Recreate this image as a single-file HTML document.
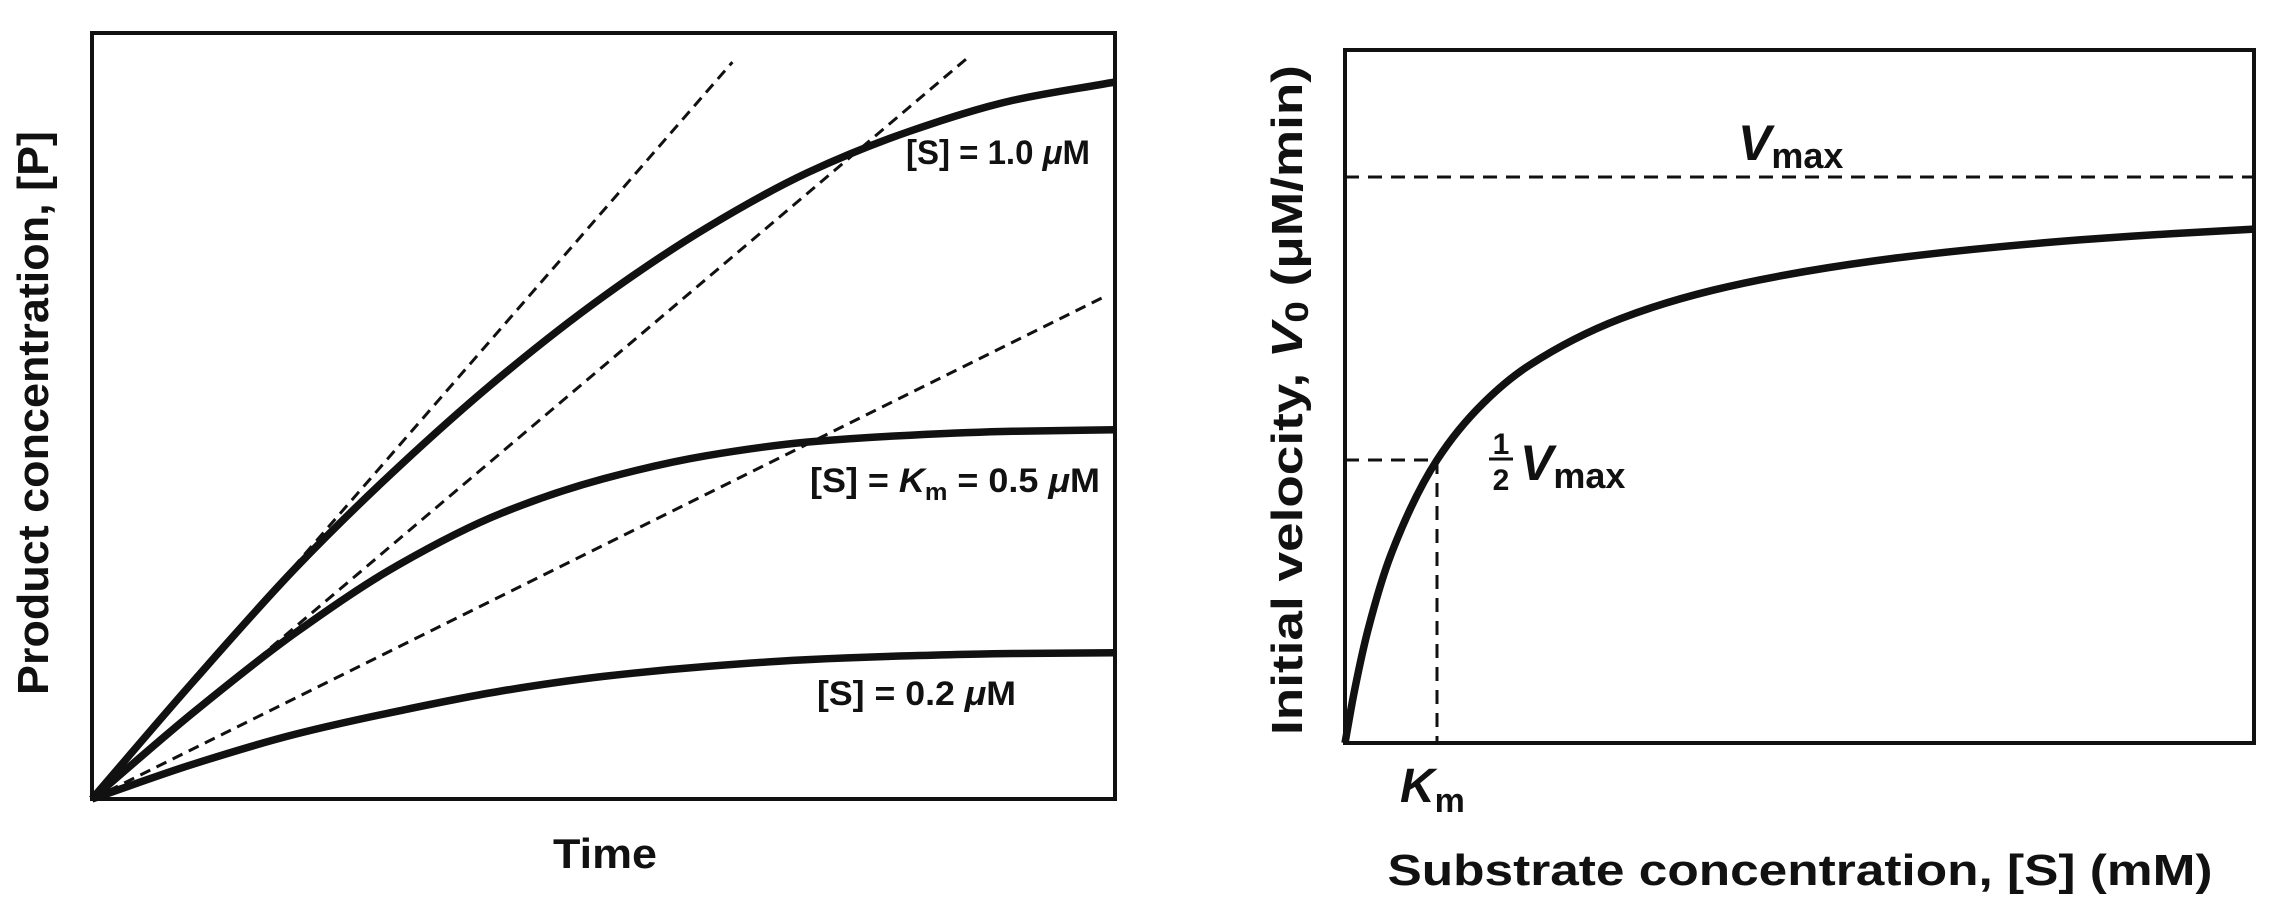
<!DOCTYPE html>
<html><head><meta charset="utf-8"><style>
html,body{margin:0;padding:0;background:#fff;}
svg{display:block;}
text{font-family:"Liberation Sans",sans-serif;font-weight:bold;fill:#111;}
</style></head><body>
<svg id="chart" width="2281" height="906" viewBox="0 0 2281 906" xmlns="http://www.w3.org/2000/svg">
<g id="left">
  <rect x="92" y="33" width="1023" height="766" fill="none" stroke="#111" stroke-width="4"/>
  <text x="605" y="868" font-size="42" text-anchor="middle" textLength="104" lengthAdjust="spacingAndGlyphs">Time</text>
  <text transform="translate(48,413) rotate(-90)" font-size="44" text-anchor="middle" textLength="564" lengthAdjust="spacingAndGlyphs">Product concentration, [P]</text>
  <text x="906" y="164" font-size="34" textLength="184" lengthAdjust="spacingAndGlyphs">[S] = 1.0 <tspan font-style="italic">μ</tspan>M</text>
  <text x="810" y="492" font-size="34" textLength="290" lengthAdjust="spacingAndGlyphs">[S] = <tspan font-style="italic">K</tspan><tspan font-size="24" dy="8">m</tspan><tspan dy="-8"> = 0.5 </tspan><tspan font-style="italic">μ</tspan>M</text>
  <text x="817" y="705" font-size="34" textLength="199" lengthAdjust="spacingAndGlyphs">[S] = 0.2 <tspan font-style="italic">μ</tspan>M</text>
</g>
<g id="right">
  <rect x="1345" y="50" width="909" height="693" fill="none" stroke="#111" stroke-width="4"/>
  <text x="1800" y="885" font-size="44" text-anchor="middle" textLength="825" lengthAdjust="spacingAndGlyphs">Substrate concentration, [S] (mM)</text>
  <text transform="translate(1302,400) rotate(-90)" font-size="44" text-anchor="middle" textLength="670" lengthAdjust="spacingAndGlyphs">Initial velocity, <tspan font-style="italic">V</tspan><tspan font-size="32" dy="6">0</tspan><tspan dy="-6"> (μM/min)</tspan></text>
  <text x="1738" y="160" font-size="50"><tspan font-style="italic">V</tspan><tspan font-size="36" dy="8">max</tspan></text>
  <g>
    <text x="1501" y="454" font-size="30" text-anchor="middle">1</text>
    <line x1="1489" y1="459" x2="1513" y2="459" stroke="#111" stroke-width="3"/>
    <text x="1501" y="490" font-size="30" text-anchor="middle">2</text>
    <text x="1520" y="480" font-size="50"><tspan font-style="italic">V</tspan><tspan font-size="36" dy="8">max</tspan></text>
  </g>
  <text x="1400" y="802" font-size="48"><tspan font-style="italic">K</tspan><tspan font-size="34" dy="10">m</tspan></text>
</g>
</svg>
<script>
// ---- left chart data (fractions of axis range) ----
const curveX = [0, 0.1, 0.2, 0.3, 0.4, 0.5, 0.6, 0.7, 0.8, 0.9, 1.0];
const curveHigh = [0, 0.155, 0.303, 0.434, 0.552, 0.656, 0.745, 0.818, 0.872, 0.912, 0.936];
const curveMid = [0, 0.114, 0.218, 0.306, 0.373, 0.418, 0.448, 0.466, 0.475, 0.48, 0.482];
const curveLow = [0, 0.046, 0.085, 0.115, 0.141, 0.16, 0.173, 0.182, 0.187, 0.19, 0.191];
const tangentEndX = [0.626, 0.858, 0.987];
const tangentEndY = [0.962, 0.970, 0.654];
// ---- right chart data ----
const substrate = [0, 0.1, 0.25, 0.5, 1, 1.5, 2, 3, 4, 5, 6, 7, 8, 9, 9.88];
const velocity = [0, 0.09, 0.2, 0.333, 0.5, 0.6, 0.667, 0.75, 0.8, 0.833, 0.857, 0.875, 0.889, 0.9, 0.908];
const vmaxValue = [1];
const kmValue = [1];

const NS = "http://www.w3.org/2000/svg";
const L = {x0: 92, x1: 1115, y0: 799, y1: 33};
const lx = f => L.x0 + f * (L.x1 - L.x0);
const ly = f => L.y0 - f * (L.y0 - L.y1);
const R = {x0: 1345, y0: 743, xPerUnit: 92, yTop: 177};
const rx = s => R.x0 + s * R.xPerUnit;
const ry = v => R.y0 - v * (R.y0 - R.yTop);

// monotone cubic (Fritsch-Carlson) path
function monoPath(pts) {
  const n = pts.length, dx = [], m = [], t = [];
  for (let i = 0; i < n - 1; i++) { dx[i] = pts[i+1][0] - pts[i][0]; m[i] = (pts[i+1][1] - pts[i][1]) / dx[i]; }
  t[0] = m[0]; t[n-1] = m[n-2];
  for (let i = 1; i < n - 1; i++) {
    if (m[i-1] * m[i] <= 0) t[i] = 0;
    else { const w1 = 2*dx[i] + dx[i-1], w2 = dx[i] + 2*dx[i-1]; t[i] = (w1 + w2) / (w1/m[i-1] + w2/m[i]); }
  }
  let d = 'M' + pts[0][0].toFixed(1) + ',' + pts[0][1].toFixed(1);
  for (let i = 0; i < n - 1; i++) {
    const h = dx[i] / 3;
    d += ' C' + (pts[i][0] + h).toFixed(1) + ',' + (pts[i][1] + t[i]*h).toFixed(1) + ' ' +
         (pts[i+1][0] - h).toFixed(1) + ',' + (pts[i+1][1] - t[i+1]*h).toFixed(1) + ' ' +
         pts[i+1][0].toFixed(1) + ',' + pts[i+1][1].toFixed(1);
  }
  return d;
}
function mk(tag, attrs, parent) {
  const el = document.createElementNS(NS, tag);
  for (const k in attrs) el.setAttribute(k, attrs[k]);
  parent.appendChild(el);
  return el;
}
const left = document.getElementById('left');
const right = document.getElementById('right');

tangentEndX.forEach((ex, i) => {
  const el = mk('line', {x1: lx(0), y1: ly(0), x2: lx(ex), y2: ly(tangentEndY[i]), stroke: '#111', 'stroke-width': 3, 'stroke-dasharray': '11,7'}, left);
  
  
});
[[curveHigh, 'curve-s-1-0'], [curveMid, 'curve-s-km'], [curveLow, 'curve-s-0-2']].forEach(([arr, name]) => {
  const pts = curveX.map((x, i) => [lx(x), ly(arr[i])]);
  const el = mk('path', {d: monoPath(pts), fill: 'none', stroke: '#111', 'stroke-width': 7.5, 'stroke-linecap': 'butt'}, left);
  
  
});

const vline = mk('line', {x1: R.x0, y1: ry(vmaxValue[0]), x2: 2254, y2: ry(vmaxValue[0]), stroke: '#111', 'stroke-width': 3, 'stroke-dasharray': '14,9'}, right);


const hline = mk('line', {x1: R.x0, y1: ry(vmaxValue[0] / 2), x2: rx(kmValue[0]), y2: ry(vmaxValue[0] / 2), stroke: '#111', 'stroke-width': 3, 'stroke-dasharray': '14,9'}, right);


const kline = mk('line', {x1: rx(kmValue[0]), y1: ry(vmaxValue[0] / 2), x2: rx(kmValue[0]), y2: R.y0, stroke: '#111', 'stroke-width': 3, 'stroke-dasharray': '14,9'}, right);


const mm = mk('path', {d: monoPath(substrate.map((s, i) => [rx(s), ry(velocity[i])])), fill: 'none', stroke: '#111', 'stroke-width': 7.5, 'stroke-linecap': 'butt'}, right);


</script>
</body></html>
